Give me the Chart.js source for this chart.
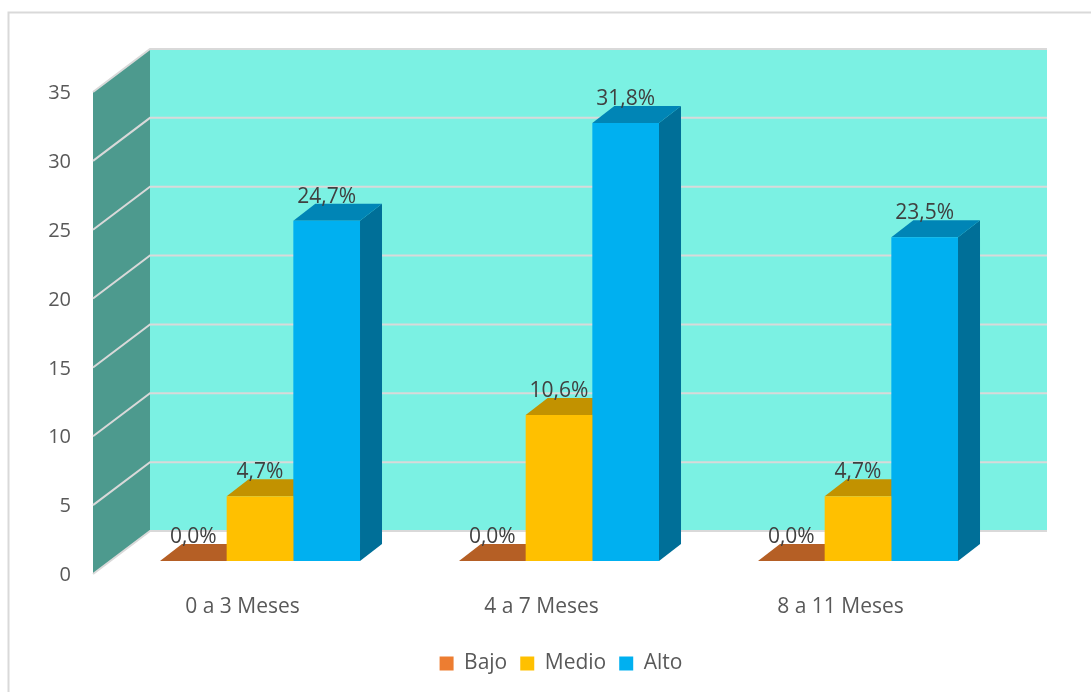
<!DOCTYPE html>
<html lang="es">
<head>
<meta charset="utf-8">
<title>Nivel por edad</title>
<script src="https://cdn.jsdelivr.net/npm/chart.js@4"></script>
<style>
    html, body { margin: 0; padding: 0; background: #fff; overflow: hidden; }
    canvas { display: block; }
</style>
</head>
<body>
<canvas id="chart" width="1091" height="692"></canvas>
<script>
const categories = ['0 a 3 Meses', '4 a 7 Meses', '8 a 11 Meses'];
const seriesNames = ['Bajo', 'Medio', 'Alto'];
const bajo = [0.0, 0.0, 0.0];
const medio = [4.7, 10.6, 4.7];
const alto = [24.7, 31.8, 23.5];
const yTicks = [0, 5, 10, 15, 20, 25, 30, 35];

// front, top and side colour of the 3d boxes
const fronts = ['#ed7d31', '#ffc000', '#00b0f0'];
const tops = ['#b55f25', '#c29200', '#0085b6'];
const sides = ['#8e4b1d', '#997300', '#006f98'];

const font = 'Open Sans';
const wall = { dx: 57, dy: 43 };
const box = { dx: 22, dy: 17 };
const shift = { x: 17.5, y: -13 }; // boxes stand in the middle of the floor

function poly(ctx, color, pts) {
    ctx.fillStyle = color;
    ctx.beginPath();
    pts.forEach((p, i) => i ? ctx.lineTo(p[0], p[1]) : ctx.moveTo(p[0], p[1]));
    ctx.closePath();
    ctx.fill();
}

const fake3d = {
    id: 'fake3d',
    afterLayout(chart) {
        // legend is centred a bit right of the page in the original
        chart.legend.left = 31;
        chart.legend.right = 1091;
        chart.legend.top -= 8;
        chart.legend.bottom -= 8;
    },
    beforeDraw(chart) {
        const ctx = chart.ctx;
        ctx.save();
        ctx.strokeStyle = '#d9d9d9';
        ctx.lineWidth = 2;
        ctx.strokeRect(8.5, 12.5, 1200, 800);
        ctx.restore();
    },
    beforeDatasetsDraw(chart) {
        const ctx = chart.ctx;
        const { left, right } = chart.chartArea;
        const y = chart.scales.y;
        const y0 = y.getPixelForValue(yTicks[0]);
        const yMax = y.getPixelForValue(yTicks[yTicks.length - 1]);

        poly(ctx, '#4d9a8e', [[left, yMax], [left + wall.dx, yMax - wall.dy], [left + wall.dx, y0 - wall.dy], [left, y0]]);
        poly(ctx, '#7bf1e3', [[left + wall.dx, yMax - wall.dy], [right + wall.dx, yMax - wall.dy], [right + wall.dx, y0 - wall.dy], [left + wall.dx, y0 - wall.dy]]);

        ctx.save();
        ctx.strokeStyle = '#d9d9d9';
        ctx.lineWidth = 2;
        yTicks.forEach(t => {
            const py = y.getPixelForValue(t);
            ctx.beginPath();
            ctx.moveTo(left, py);
            ctx.lineTo(left + wall.dx, py - wall.dy);
            ctx.lineTo(right + wall.dx, py - wall.dy);
            ctx.stroke();
        });
        ctx.restore();

        // top and side faces, the library paints the front faces over them
        ctx.save();
        ctx.translate(shift.x, shift.y);
        chart.data.datasets.forEach((ds, i) => {
            chart.getDatasetMeta(i).data.forEach(bar => {
                const l = bar.x - bar.width / 2;
                const r = bar.x + bar.width / 2;
                poly(ctx, sides[i], [[r, bar.y], [r + box.dx, bar.y - box.dy], [r + box.dx, bar.base - box.dy], [r, bar.base]]);
                poly(ctx, tops[i], [[l, bar.y], [l + box.dx, bar.y - box.dy], [r + box.dx, bar.y - box.dy], [r, bar.y]]);
            });
        });
        ctx.restore();

        ctx.save();
        ctx.translate(shift.x, shift.y);
    },
    afterDatasetsDraw(chart) {
        const ctx = chart.ctx;
        ctx.restore();

        ctx.save();
        ctx.font = '21px "' + font + '"';
        ctx.fillStyle = '#404040';
        ctx.textAlign = 'center';
        ctx.textBaseline = 'middle';
        chart.data.datasets.forEach((ds, i) => {
            chart.getDatasetMeta(i).data.forEach((bar, j) => {
                const text = ds.data[j].toFixed(1).replace('.', ',') + '%';
                ctx.fillText(text, bar.x + shift.x, bar.y + shift.y - 24);
            });
        });
        ctx.restore();
    }
};

new Chart(document.getElementById('chart').getContext('2d'), {
    type: 'bar',
    data: {
        labels: categories,
        datasets: [bajo, medio, alto].map((values, i) => ({
            label: seriesNames[i],
            data: values,
            backgroundColor: fronts[i],
            categoryPercentage: 0.669,
            barPercentage: 1,
            clip: false
        }))
    },
    options: {
        responsive: false,
        animation: false,
        layout: { padding: { top: 92, right: 101, left: 0, bottom: 0 } },
        scales: {
            x: {
                grid: { display: false },
                border: { display: false },
                ticks: { color: '#595959', padding: 12, font: { family: font, size: 21 }, maxRotation: 0 },
                afterFit: s => { s.height = 118 - s.chart.legend.height; }
            },
            y: {
                min: yTicks[0],
                max: yTicks[yTicks.length - 1],
                grid: { display: false },
                border: { display: false },
                ticks: { color: '#595959', padding: 14, labelOffset: 1.5, stepSize: 5, font: { family: font, size: 20 } },
                afterFit: s => { s.width = 93; }
            }
        },
        plugins: {
            tooltip: { enabled: false },
            legend: {
                position: 'bottom',
                labels: {
                    color: '#595959',
                    boxWidth: 14,
                    boxHeight: 14,
                    padding: 13,
                    font: { family: font, size: 21 }
                }
            }
        }
    },
    plugins: [fake3d]
});
</script>
</body>
</html>
